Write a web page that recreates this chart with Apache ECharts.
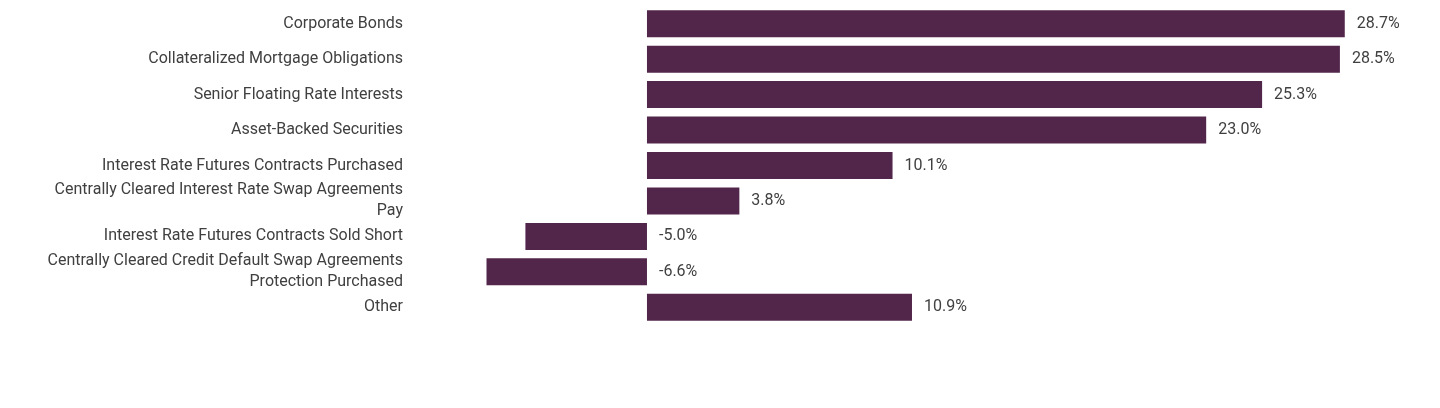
<!DOCTYPE html>
<html>
<head>
<meta charset="utf-8">
<script src="https://cdn.jsdelivr.net/npm/echarts@6/dist/echarts.min.js"></script>
<style>html,body{margin:0;padding:0;background:#fff}#chart{width:1440px;height:408px}</style>
</head>
<body>
<div id="chart"></div>
<script>
var categories = [
  'Corporate Bonds',
  'Collateralized Mortgage Obligations',
  'Senior Floating Rate Interests',
  'Asset-Backed Securities',
  'Interest Rate Futures Contracts Purchased',
  'Centrally Cleared Interest Rate Swap Agreements\nPay',
  'Interest Rate Futures Contracts Sold Short',
  'Centrally Cleared Credit Default Swap Agreements\nProtection Purchased',
  'Other'
];
var values = [28.7, 28.5, 25.3, 23.0, 10.1, 3.8, -5.0, -6.6, 10.9];

var chart = echarts.init(document.getElementById('chart'));
chart.setOption({
  animation: false,
  grid: { left: 416, right: 15, top: 6, bottom: 83, containLabel: false },
  xAxis: {
    type: 'value', min: -9.5, max: 32,
    show: false
  },
  yAxis: {
    type: 'category', data: categories, inverse: true,
    axisLine: { show: false }, axisTick: { show: false },
    axisLabel: { margin: 13, fontFamily: 'Roboto', fontSize: 16, color: '#404040', lineHeight: 21 }
  },
  series: [{
    type: 'bar',
    data: values,
    barWidth: 27,
    itemStyle: { color: '#52264B' },
    label: {
      show: true, position: 'right', distance: 12,
      fontFamily: 'Roboto', fontSize: 16, color: '#404040',
      formatter: function (p) { return p.value.toFixed(1) + '%'; }
    }
  }]
});
</script>
</body>
</html>
